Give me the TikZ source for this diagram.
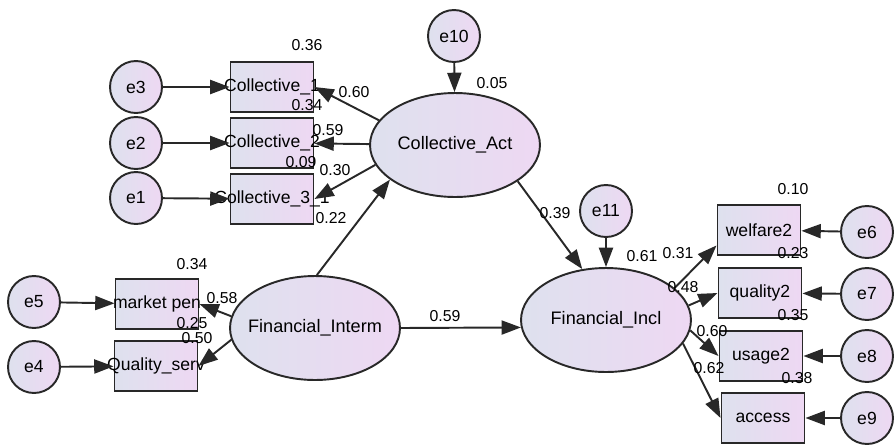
\documentclass[tikz,border=0pt]{standalone}
\usepackage{fontspec}
\setmainfont{Liberation Sans}
\usetikzlibrary{arrows.meta,shapes.geometric}
\definecolor{shadeL}{RGB}{222,225,238}
\definecolor{shadeR}{RGB}{238,216,243}
\definecolor{edge}{RGB}{40,40,40}
\newcommand{\boxtext}[1]{\makebox[0pt]{#1}}
\tikzset{
  err/.style={circle, draw=edge, line width=1.1pt, left color=shadeL, right color=shadeR,
    minimum size=1.04cm, inner sep=0pt, font=\fontsize{10}{12}\selectfont},
  obs/.style={rectangle, draw=edge, line width=1.1pt, left color=shadeL, right color=shadeR,
    minimum width=1.66cm, minimum height=1.0cm, inner sep=0pt, font=\fontsize{10}{12}\selectfont},
  lat/.style={ellipse, draw=edge, line width=1.1pt, left color=shadeL, right color=shadeR,
    minimum width=3.4cm, minimum height=2.08cm, inner sep=0pt, font=\fontsize{10.3}{12}\selectfont},
  num/.style={inner sep=0pt, font=\fontsize{9}{11}\selectfont},
  path/.style={draw=edge, line width=1.1pt, -{Triangle[length=11pt,width=8pt]}}
}
\begin{document}
\begin{tikzpicture}[x=0.02cm, y=-0.02cm]
		%%%%% START %%%%%
		\useasboundingbox (0,0) rectangle (894,444);
		
		% error terms
		\node[err] (e3) at (136, 87) {e3};
		\node[err] (e2) at (136, 143) {e2};
		\node[err] (e1) at (136, 198) {e1};
		\node[err] (e5) at (34, 302) {e5};
		\node[err] (e4) at (34, 367) {e4};
		\node[err] (e10) at (454, 36) {e10};
		\node[err] (e11) at (606, 211) {e11};
		\node[err] (e6) at (867, 232) {e6};
		\node[err] (e7) at (867, 294) {e7};
		\node[err] (e8) at (867, 356) {e8};
		\node[err] (e9) at (867, 418) {e9};
		
		% observed
		\node[obs] (coll1) at (272, 87) {\boxtext{Collective\_1}};
		\node[obs] (coll2) at (272, 143) {\boxtext{Collective\_2}};
		\node[obs] (coll3) at (272, 199) {\boxtext{Collective\_3\_1}};
		\node[obs] (mktpen) at (157, 304) {\boxtext{market pen}};
		\node[obs] (qserv) at (156, 366) {\boxtext{Quality\_serv}};
		\node[obs] (welfare) at (759, 230) {\boxtext{welfare2}};
		\node[obs] (quality) at (760, 293) {\boxtext{quality2}};
		\node[obs] (usage) at (761, 356) {\boxtext{usage2}};
		\node[obs] (access) at (763, 418) {\boxtext{access}};
		
		% latent
		\node[lat] (collact) at (455, 145) {\boxtext{Collective\_Act}};
		\node[lat] (finint) at (315, 328) {\boxtext{Financial\_Interm}};
		\node[lat] (fincl) at (606, 320) {\boxtext{Financial\_Incl}};
		
		% paths
		\draw[path] (e3) -- (coll1);
		\draw[path] (e2) -- (coll2);
		\draw[path] (e1) -- (coll3);
		\draw[path] (e5) -- (mktpen);
		\draw[path] (e4) -- (qserv);
		\draw[path] (e10) -- (collact);
		\draw[path] (e11) -- (fincl);
		\draw[path] (e6) -- (welfare);
		\draw[path] (e7) -- (quality);
		\draw[path] (e8) -- (usage);
		\draw[path] (e9) -- (access);
		
		\draw[path] (collact.162) -- (coll1.east);
		\draw[path] (collact) -- (coll2);
		\draw[path] (collact.194) -- (coll3.east);
		\draw[path] (finint.172) -- (mktpen.east);
		\draw[path] (finint.188) -- (qserv.east);
		\draw[path] (finint.88) -- (collact.208);
		\draw[path] (finint.east) -- (fincl.185);
		\draw[path] (collact.-30) -- (fincl.115);
		\draw[path] (fincl.25) -- (welfare.200);
		\draw[path] (fincl.10) -- (quality.west);
		\draw[path] (fincl.-7) -- (usage.west);
		\draw[path] (fincl.-17) -- (access.west);
		
		% estimates
		\node[num] (r1) at (307, 45) {0.36};
		\node[num] (r2) at (307, 105) {0.34};
		\node[num] (r3) at (301, 162) {0.09};
		\node[num] (l1) at (354, 92) {0.60};
		\node[num] (l2) at (328, 130) {0.59};
		\node[num] (l3) at (335, 170) {0.30};
		\node[num] (b1) at (331, 218) {0.22};
		\node[num] (r10) at (492, 83) {0.05};
		\node[num] (r5) at (192, 264) {0.34};
		\node[num] (l5) at (222, 298) {0.58};
		\node[num] (r4) at (192, 323) {0.25};
		\node[num] (l4) at (197, 338) {0.50};
		\node[num] (b2) at (445, 316) {0.59};
		\node[num] (b3) at (555, 213) {0.39};
		\node[num] (r11) at (642, 256) {0.61};
		\node[num] (l6) at (678, 253) {0.31};
		\node[num] (l7) at (683, 287) {0.48};
		\node[num] (l8) at (712, 331) {0.60};
		\node[num] (l9) at (709, 368) {0.62};
		\node[num] (r6) at (793, 189) {0.10};
		\node[num] (r7) at (793, 253) {0.23};
		\node[num] (r8) at (793, 315) {0.35};
		\node[num] (r9) at (797, 378) {0.38};
		
		%%%%% END %%%%%
\end{tikzpicture}
\end{document}
